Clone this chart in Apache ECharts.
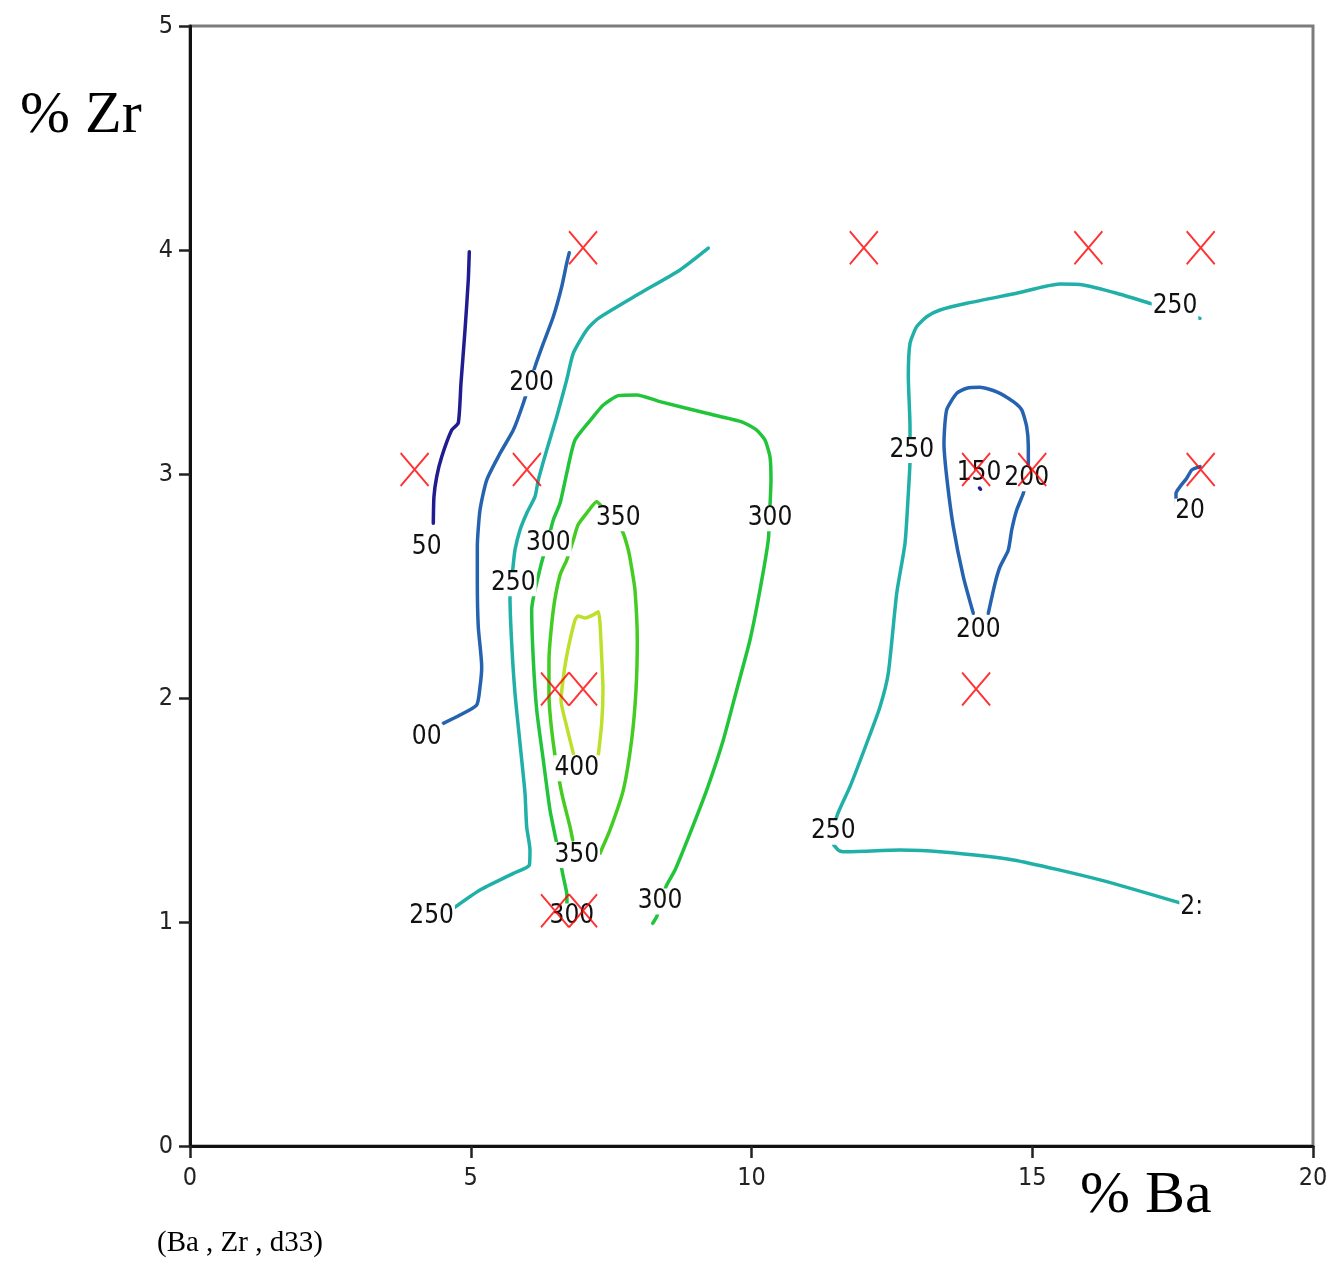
<!DOCTYPE html>
<html>
<head>
<meta charset="utf-8">
<title>d33 contour map (Ba, Zr)</title>
<script src="https://cdn.jsdelivr.net/npm/echarts@6/dist/echarts.min.js"></script>
<style>
  html, body { margin: 0; padding: 0; background: #ffffff; }
  #chart { width: 1332px; height: 1274px; }
</style>
</head>
<body>
<div id="chart"></div>
<script>
// ---- axis ranges and ticks (% Ba on x, % Zr on y) ----
const xRange = [0, 20];
const xStep = 5;
const yRange = [0, 5];
const yStep = 1;

// ---- d33 iso-lines, each a list of [Ba %, Zr %] vertices ----
const level50 = [
  [4.974, 3.992], [4.956, 3.866], [4.898, 3.643], [4.826, 3.406], [4.778, 3.228],
  [4.661, 3.196], [4.483, 3.077], [4.394, 2.988], [4.345, 2.899], [4.333, 2.780]
];
const level200West = [
  [6.755, 3.988], [6.709, 3.941], [6.620, 3.836], [6.470, 3.702], [6.292, 3.583],
  [6.144, 3.479], [5.936, 3.316], [5.758, 3.196], [5.521, 3.092], [5.284, 2.973],
  [5.165, 2.839], [5.117, 2.675], [5.117, 2.527], [5.134, 2.318], [5.195, 2.140],
  [5.165, 2.050], [5.106, 1.969], [4.809, 1.924], [4.511, 1.887]
];
const level250West = [
  [9.231, 4.008], [8.727, 3.911], [8.014, 3.807], [7.272, 3.695], [7.065, 3.643],
  [6.826, 3.539], [6.709, 3.420], [6.531, 3.256], [6.353, 3.107], [6.203, 2.973],
  [6.144, 2.899], [5.997, 2.825], [5.877, 2.750], [5.788, 2.661], [5.747, 2.571],
  [5.699, 2.452], [5.729, 2.244], [5.788, 2.021], [5.877, 1.798], [5.966, 1.575],
  [5.996, 1.425], [6.055, 1.321], [6.043, 1.254], [5.758, 1.217], [5.165, 1.143],
  [4.689, 1.061]
];
const level300 = [
  [6.714, 1.076], [6.709, 1.128], [6.648, 1.202], [6.531, 1.351], [6.411, 1.500],
  [6.292, 1.723], [6.175, 1.946], [6.114, 2.170], [6.085, 2.393], [6.251, 2.594],
  [6.353, 2.683], [6.470, 2.795], [6.590, 2.869], [6.709, 3.003], [6.857, 3.152],
  [7.183, 3.256], [7.361, 3.308], [7.628, 3.350], [7.955, 3.353], [8.370, 3.323],
  [9.202, 3.271], [9.825, 3.233], [10.093, 3.196], [10.240, 3.152], [10.329, 3.077],
  [10.347, 2.973], [10.329, 2.854], [10.299, 2.705], [10.151, 2.482], [9.973, 2.259],
  [9.736, 2.036], [9.498, 1.813], [9.202, 1.589], [8.905, 1.396], [8.638, 1.232],
  [8.477, 1.158], [8.312, 1.024], [8.240, 0.994]
];
const level350 = [
  [6.816, 1.366], [6.768, 1.425], [6.620, 1.575], [6.470, 1.798], [6.393, 2.021],
  [6.393, 2.170], [6.470, 2.393], [6.590, 2.549], [6.709, 2.616], [6.826, 2.705],
  [6.910, 2.772], [7.065, 2.825], [7.243, 2.876], [7.355, 2.848], [7.688, 2.750],
  [7.806, 2.661], [7.872, 2.571], [7.925, 2.482], [7.966, 2.259], [7.943, 2.036],
  [7.866, 1.813], [7.717, 1.589], [7.480, 1.411], [7.302, 1.307]
];
const level400 = [
  [6.826, 1.753], [6.709, 1.872], [6.607, 1.991], [6.643, 2.080], [6.696, 2.170],
  [6.768, 2.259], [6.857, 2.348], [6.910, 2.366], [7.035, 2.357], [7.183, 2.371],
  [7.272, 2.385], [7.302, 2.333], [7.332, 2.184], [7.355, 2.036], [7.332, 1.887],
  [7.272, 1.746]
];
const level250East = [
  [17.662, 1.083], [16.207, 1.188], [14.663, 1.277], [13.357, 1.314], [12.645, 1.321],
  [11.635, 1.314], [11.546, 1.321], [11.457, 1.351], [11.517, 1.470], [11.754, 1.604],
  [12.052, 1.798], [12.289, 1.961], [12.436, 2.110], [12.586, 2.467], [12.734, 2.691],
  [12.793, 2.914], [12.823, 3.063], [12.823, 3.211], [12.793, 3.434], [12.823, 3.583],
  [12.942, 3.658], [13.120, 3.702], [13.357, 3.732], [13.833, 3.762], [14.723, 3.807],
  [15.494, 3.848], [15.909, 3.844], [16.504, 3.807], [17.097, 3.762], [17.988, 3.695]
];
const level200Loop = [
  [13.950, 2.378], [13.772, 2.542], [13.594, 2.765], [13.476, 2.988], [13.428, 3.137],
  [13.476, 3.286], [13.654, 3.360], [13.833, 3.383], [14.069, 3.387], [14.367, 3.367],
  [14.663, 3.323], [14.812, 3.286], [14.901, 3.211], [14.930, 3.122], [14.930, 3.048],
  [14.901, 2.981], [14.841, 2.914], [14.723, 2.839], [14.634, 2.750], [14.574, 2.661],
  [14.426, 2.586], [14.337, 2.512], [14.217, 2.378]
];
const level200Edge = [
  [17.988, 3.033], [17.840, 3.018], [17.751, 2.981], [17.631, 2.943], [17.560, 2.914],
  [17.560, 2.869], [17.583, 2.839]
];
const level150Dot = [[14.060, 2.938], [14.078, 2.932]];

// ---- iso-line value labels: [Ba %, Zr %, text] ----
const lineLabels = [
  [4.215, 2.675, '50'],
  [6.085, 3.405, '200'],
  [4.215, 1.827, '00'],
  [5.758, 2.512, '250'],
  [4.304, 1.024, '250'],
  [6.381, 2.691, '300'],
  [10.329, 2.802, '300'],
  [8.370, 1.091, '300'],
  [6.800, 1.024, '300'],
  [7.628, 2.802, '350'],
  [6.887, 1.299, '350'],
  [6.887, 1.686, '400'],
  [12.853, 3.107, '250'],
  [11.457, 1.403, '250'],
  [17.542, 3.747, '250'],
  [17.840, 1.068, '2:'],
  [14.052, 3.003, '150'],
  [14.901, 2.981, '200'],
  [14.039, 2.304, '200'],
  [17.810, 2.832, '20']
];

// ---- measured compositions [Ba %, Zr %] ----
const samplePoints = [
  [7, 4.01], [12, 4.01], [16, 4.01], [18, 4.01],
  [4, 3.02], [6, 3.02], [14, 3.02], [15, 3.02], [18, 3.02],
  [6.5, 2.04], [7, 2.04], [14, 2.04],
  [6.5, 1.05], [7, 1.05]
];

const NARROW = "'Liberation Sans Narrow', 'DejaVu Sans Condensed', 'Arial Narrow', sans-serif";
const SERIF = "'Liberation Serif', 'DejaVu Serif', serif";

function isoLine(name, data, color) {
  return {
    name: name,
    type: 'line',
    data: data,
    z: 2,
    smooth: 0.2,
    showSymbol: false,
    symbol: 'none',
    clip: false,
    silent: true,
    lineStyle: { color: color, width: 3.5, cap: 'round', join: 'round' },
    emphasis: { disabled: true }
  };
}

const chart = echarts.init(document.getElementById('chart'), null, { renderer: 'canvas' });

chart.setOption({
  animation: false,
  backgroundColor: '#ffffff',
  grid: {
    left: 190, right: 19, top: 26, bottom: 128,
    containLabel: false,
    outerBoundsMode: 'none',
    show: true,
    borderColor: '#7c7c7c',
    borderWidth: 3,
    backgroundColor: 'transparent'
  },
  xAxis: {
    type: 'value',
    min: xRange[0], max: xRange[1], interval: xStep,
    axisLine: { show: true, onZero: false, lineStyle: { color: '#111', width: 3 } },
    axisTick: { show: true, inside: false, length: 12, lineStyle: { color: '#222', width: 2.5 } },
    axisLabel: {
      show: true, margin: 20, color: '#222', fontSize: 25, fontFamily: NARROW,
      showMinLabel: true, showMaxLabel: true, hideOverlap: false
    },
    splitLine: { show: false }
  },
  yAxis: {
    type: 'value',
    min: yRange[0], max: yRange[1], interval: yStep,
    axisLine: { show: true, onZero: false, lineStyle: { color: '#111', width: 3 } },
    axisTick: { show: true, inside: false, length: 11, lineStyle: { color: '#222', width: 2.5 } },
    axisLabel: {
      show: true, margin: 17, color: '#222', fontSize: 25, fontFamily: NARROW,
      showMinLabel: true, showMaxLabel: true, hideOverlap: false
    },
    splitLine: { show: false }
  },
  graphic: [
    { type: 'text', left: 20, top: 86, silent: true,
      style: { text: '% Zr', font: '60px ' + SERIF, fill: '#000' } },
    { type: 'text', left: 1080, top: 1166, silent: true,
      style: { text: '% Ba', font: '60px ' + SERIF, fill: '#000' } },
    { type: 'text', left: 157, top: 1229, silent: true,
      style: { text: '(Ba , Zr , d33)', font: '29px ' + SERIF, fill: '#000' } }
  ],
  series: [
    isoLine('50', level50, '#1f1d8f'),
    isoLine('200 west', level200West, '#2563b0'),
    isoLine('250 west', level250West, '#20b0a8'),
    isoLine('300', level300, '#22c43a'),
    isoLine('350', level350, '#44cc22'),
    isoLine('400', level400, '#bde02c'),
    isoLine('250 east', level250East, '#20b0a8'),
    isoLine('200 loop', level200Loop, '#2563b0'),
    isoLine('200 edge', level200Edge, '#2563b0'),
    isoLine('150', level150Dot, '#1f1d8f'),
    {
      name: 'values',
      type: 'custom',
      z: 3,
      silent: true,
      clip: false,
      data: lineLabels.map(function (d) { return [d[0], d[1]]; }),
      renderItem: function (params, api) {
        const p = api.coord([api.value(0), api.value(1)]);
        return {
          type: 'text',
          x: p[0], y: p[1],
          style: {
            text: lineLabels[params.dataIndex][2],
            fill: '#111',
            font: '26px ' + NARROW,
            align: 'center',
            verticalAlign: 'middle',
            backgroundColor: '#ffffff',
            padding: [0, 1]
          }
        };
      }
    },
    {
      name: 'samples',
      type: 'scatter',
      z: 4,
      silent: true,
      data: samplePoints,
      symbol: 'path://M0,0L28,33M28,0L0,33',
      symbolSize: [28, 33],
      itemStyle: { color: '#ff0000', borderColor: '#ff0000', borderWidth: 2 },
      emphasis: { disabled: true }
    }
  ]
});
</script>
</body>
</html>
